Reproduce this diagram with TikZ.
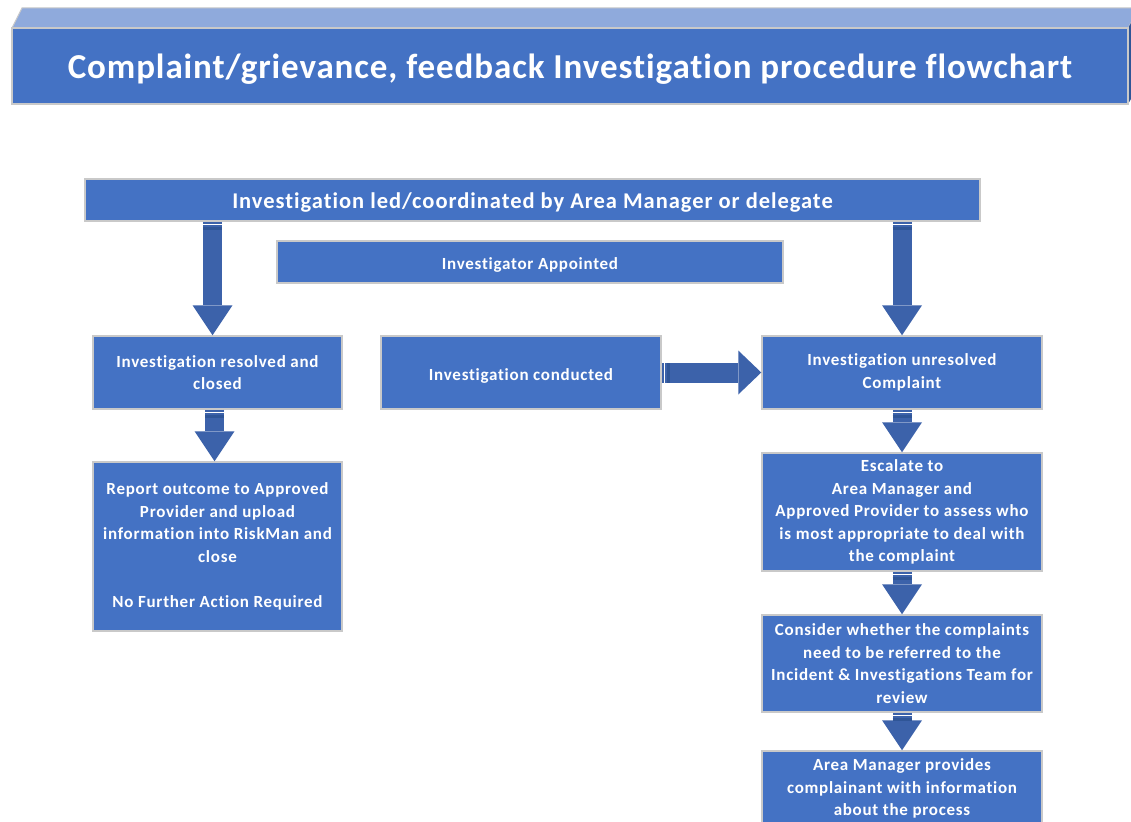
\documentclass[tikz,border=0pt]{standalone}
\usepackage{fontspec}
\setmainfont{Carlito}[LetterSpace=4.3, Ligatures=NoCommon]
\newfontfamily\titlefont{Carlito}[LetterSpace=2.6, Ligatures=NoCommon]
\usetikzlibrary{arrows.meta, decorations.markings}

\definecolor{boxblue}{HTML}{4472C4}
\definecolor{arrowblue}{HTML}{3C62AA}
\definecolor{topblue}{HTML}{8FAADC}
\definecolor{sideblue}{HTML}{2F5597}
\definecolor{edgegray}{HTML}{C9C9C9}

\tikzset{
  box/.style={draw=edgegray, line width=1.5pt, fill=boxblue, text=white, align=center,
    inner sep=0pt, font=\bfseries\fontsize{17}{22.5}\selectfont,
    execute at begin node={\rule{0pt}{\dimexpr\fontcharht\font`l+6pt\relax}}},
  stripes/.style={postaction={decorate, decoration={markings,
    mark=at position 2.5pt with {\draw[white, line width=1pt, -] (0,-#1) -- (0,#1);},
    mark=at position 6.5pt with {\draw[sideblue, line width=2.5pt, -] (0,-#1) -- (0,#1);}}}},
  downarrow/.style={arrowblue, line width=19pt, stripes=9.5pt,
    -{Triangle[length=30pt, width=40pt, line width=0pt]}},
  rightarrow/.style={arrowblue, line width=20pt, stripes=10pt,
    -{Triangle[length=23pt, width=44pt, line width=0pt]}}
}

\begin{document}
\begin{tikzpicture}[x=1pt, y=-1pt]
    \clip (0,0) rectangle (1131,821);
    \fill[white] (0,0) rectangle (1131,821);

    \fill[topblue, draw=edgegray, line width=1pt] (12,28) -- (22,8) -- (1140,8) -- (1128,28) -- cycle;
    \fill[sideblue] (1128,28) -- (1140,8) -- (1140,84) -- (1128,104) -- cycle;
    \node[box, minimum width=1116, minimum height=76, font=\titlefont\bfseries\fontsize{35}{40}\selectfont]
      (title) at (570,66) {Complaint/grievance, feedback Investigation procedure flowchart};

    \node[box, minimum width=895, minimum height=42, font=\bfseries\fontsize{22.5}{26}\selectfont]
      (lead) at (532.5,200) {Investigation led/coordinated by Area Manager or delegate};
    \node[box, minimum width=506, minimum height=42] (appointed) at (530,262) {Investigator Appointed};

    \node[box, minimum width=249, minimum height=73] (resolved) at (217.5,372.5) {Investigation resolved and\\closed};
    \node[box, minimum width=280, minimum height=73] (conducted) at (521,372.5) {Investigation conducted};
    \node[box, minimum width=280, minimum height=73] (unresolved) at (902,372.5) {Investigation unresolved\\Complaint};

    \node[box, minimum width=249, minimum height=169] (report) at (217.5,546.5)
      {Report outcome to Approved\\Provider and upload\\information into RiskMan and\\close\\[22.5pt]No Further Action Required};
    \node[box, minimum width=280, minimum height=118] (escalate) at (902,512)
      {Escalate to\\Area Manager and\\Approved Provider to assess who\\is most appropriate to deal with\\the complaint};
    \node[box, minimum width=280, minimum height=97] (consider) at (902,663.5)
      {Consider whether the complaints\\need to be referred to the\\Incident \& Investigations Team for\\review};
    \node[box, minimum width=280, minimum height=75] (informs) at (902,788.5)
      {Area Manager provides\\complainant with information\\about the process};

    \draw[downarrow] ([xshift=-5pt]lead.south -| resolved.north) -- ([xshift=-5pt]resolved.north);
    \draw[downarrow] (lead.south -| unresolved.north) -- (unresolved.north);
    \draw[rightarrow] (conducted.east) -- (unresolved.west);

    \draw[downarrow] ([xshift=-3pt]resolved.south) -- ([xshift=-3pt]report.north);
    \draw[downarrow] (unresolved.south) -- (escalate.north);
    \draw[downarrow] (escalate.south) -- (consider.north);
    \draw[downarrow] (consider.south) -- (informs.north);
\end{tikzpicture}
\end{document}
